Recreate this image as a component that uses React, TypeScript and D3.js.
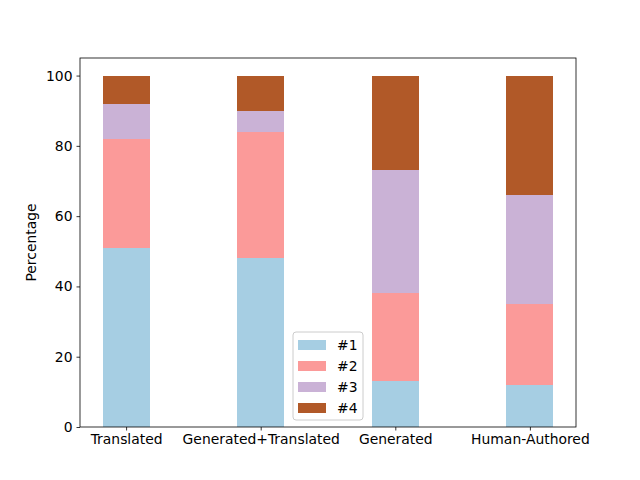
import React, { useRef, useEffect } from "react";
import * as d3 from "d3";

const categories = ["Translated", "Generated+Translated", "Generated", "Human-Authored"];
const seriesNames = ["#1", "#2", "#3", "#4"];
const s1 = [51, 48, 13, 12];
const s2 = [31, 36, 25, 23];
const s3 = [10, 6, 35, 31];
const s4 = [8, 10, 27, 34];
const yTicks = [0, 20, 40, 60, 80, 100];
const colors = ["#a6cee3", "#fb9a99", "#cab2d6", "#b15928"];

const App: React.FC = () => {
  const ref = useRef<SVGSVGElement | null>(null);

  useEffect(() => {
    if (!ref.current) return;
    const W = 640;
    const H = 480;
    const margin = { top: 58, right: 64, bottom: 53, left: 80 };
    const width = W - margin.left - margin.right;
    const height = H - margin.top - margin.bottom;

    const svg = d3.select(ref.current);
    svg.selectAll("*").remove();
    svg.append("rect").attr("width", W).attr("height", H).attr("fill", "white");

    const rows = categories.map((c, i) => ({
      cat: c,
      "#1": s1[i],
      "#2": s2[i],
      "#3": s3[i],
      "#4": s4[i],
    }));
    const stacked = d3.stack<any>().keys(seriesNames)(rows);

    const barW = 0.35;
    const x = d3.scaleLinear().domain([-0.3425, 3.3425]).range([0, width]);
    const y = d3.scaleLinear().domain([0, 105]).range([height, 0]);

    const g = svg
      .append("g")
      .attr("transform", `translate(${margin.left},${margin.top})`);

    g.selectAll("g.layer")
      .data(stacked)
      .enter()
      .append("g")
      .attr("fill", (_, i) => colors[i])
      .attr("shape-rendering", "crispEdges")
      .selectAll("rect")
      .data((d) => d.map((v, i) => ({ v, i })))
      .enter()
      .append("rect")
      .attr("x", (d) => x(d.i - barW / 2))
      .attr("width", (d) => x(d.i + barW / 2) - x(d.i - barW / 2))
      .attr("y", (d) => y(d.v[1]))
      .attr("height", (d) => y(d.v[0]) - y(d.v[1]));

    const font = "DejaVu Sans, sans-serif";

    const xAxis = g
      .append("g")
      .attr("transform", `translate(0,${height})`)
      .call(
        d3
          .axisBottom(x)
          .tickValues([0, 1, 2, 3])
          .tickFormat((d) => categories[d as number])
          .tickSize(3.5)
          .tickPadding(4)
      );
    const yAxis = g
      .append("g")
      .call(d3.axisLeft(y).tickValues(yTicks).tickSize(3.5).tickPadding(4));

    [xAxis, yAxis].forEach((a) => {
      a.select(".domain").remove();
      a.selectAll("line").attr("stroke", "black").attr("stroke-width", 0.8);
      a.selectAll("text")
        .attr("font-family", font)
        .attr("font-size", 13.9)
        .attr("fill", "black");
    });

    // spines
    g.append("rect")
      .attr("width", width)
      .attr("height", height)
      .attr("fill", "none")
      .attr("stroke", "black")
      .attr("stroke-width", 0.8);

    svg
      .append("text")
      .attr("transform", `translate(36,${margin.top + height / 2}) rotate(-90)`)
      .attr("text-anchor", "middle")
      .attr("font-family", font)
      .attr("font-size", 13.9)
      .text("Percentage");

    // legend
    const lx = 293;
    const ly = 332;
    const legend = svg.append("g").attr("transform", `translate(${lx},${ly})`);
    legend
      .append("rect")
      .attr("width", 70)
      .attr("height", 88)
      .attr("rx", 3)
      .attr("fill", "white")
      .attr("fill-opacity", 0.8)
      .attr("stroke", "#cccccc")
      .attr("stroke-width", 1);
    seriesNames.forEach((name, i) => {
      const row = legend.append("g").attr("transform", `translate(0,${8 + i * 21})`);
      row
        .append("rect")
        .attr("x", 5)
        .attr("y", 0)
        .attr("width", 28)
        .attr("height", 10)
        .attr("fill", colors[i]);
      row
        .append("text")
        .attr("x", 44)
        .attr("y", 10)
        .attr("font-family", font)
        .attr("font-size", 13.9)
        .text(name);
    });
  }, []);

  return <svg ref={ref} width={640} height={480} style={{ display: "block", margin: -8 }} />;
};

export default App;
